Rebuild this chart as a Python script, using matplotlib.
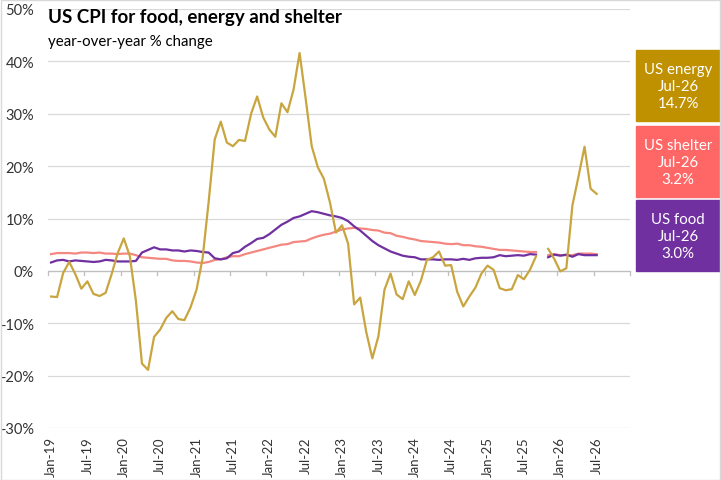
import numpy as np
import pandas as pd
import matplotlib
matplotlib.use("Agg")
import matplotlib.pyplot as plt
from matplotlib.patches import Rectangle

plt.rcParams['font.family'] = ['Lato', 'DejaVu Sans']

nan = np.nan

# monthly yoy % change, Jan-19 .. Jul-26 (Oct-25 not published)
energy = [
    -4.9, -5.0, -0.4, 1.7, -0.6, -3.4, -2.0, -4.4, -4.8, -4.2, -0.6, 3.4,
    6.2, 2.8, -5.7, -17.7, -18.9, -12.6, -11.2, -9.0, -7.7, -9.2, -9.4, -7.0,
    -3.6, 2.4, 13.2, 25.1, 28.5, 24.5, 23.8, 25.0, 24.8, 30.0, 33.3, 29.3,
    27.0, 25.6, 32.0, 30.3, 34.6, 41.6, 32.9, 23.8, 19.8, 17.6, 13.1, 7.3,
    8.7, 5.2, -6.4, -5.1, -11.7, -16.7, -12.5, -3.6, -0.5, -4.5, -5.4, -2.0,
    -4.6, -1.9, 2.1, 2.6, 3.7, 1.0, 1.1, -4.0, -6.8, -4.9, -3.2, -0.5,
    1.0, 0.2, -3.3, -3.7, -3.5, -0.8, -1.6, 0.2, 2.8, nan, 4.2, 2.3,
    -0.1, 0.5, 12.5, 18.0, 23.7, 15.7, 14.7,
]
food = [
    1.6, 2.0, 2.1, 1.8, 2.0, 1.9, 1.8, 1.7, 1.8, 2.1, 2.0, 1.8,
    1.8, 1.8, 1.9, 3.5, 4.0, 4.5, 4.1, 4.1, 3.9, 3.9, 3.7, 3.9,
    3.8, 3.6, 3.5, 2.4, 2.2, 2.4, 3.4, 3.7, 4.6, 5.3, 6.1, 6.3,
    7.0, 7.9, 8.8, 9.4, 10.1, 10.4, 10.9, 11.4, 11.2, 10.9, 10.6, 10.4,
    10.1, 9.5, 8.5, 7.7, 6.7, 5.7, 4.9, 4.3, 3.7, 3.3, 2.9, 2.7,
    2.6, 2.2, 2.2, 2.2, 2.1, 2.2, 2.2, 2.1, 2.3, 2.1, 2.4, 2.5,
    2.5, 2.6, 3.0, 2.8, 2.9, 3.0, 2.9, 3.2, 3.1, nan, 2.6, 3.1,
    2.9, 3.1, 2.7, 3.2, 3.0, 3.0, 3.0,
]
shelter = [
    3.2, 3.4, 3.4, 3.4, 3.3, 3.5, 3.5, 3.4, 3.5, 3.3, 3.3, 3.2,
    3.3, 3.3, 3.0, 2.6, 2.5, 2.4, 2.3, 2.3, 2.0, 1.9, 1.9, 1.8,
    1.6, 1.5, 1.7, 2.1, 2.2, 2.6, 2.8, 2.8, 3.2, 3.5, 3.8, 4.1,
    4.4, 4.7, 5.0, 5.1, 5.5, 5.6, 5.7, 6.2, 6.6, 6.9, 7.1, 7.5,
    7.9, 8.1, 8.2, 8.1, 8.0, 7.8, 7.7, 7.3, 7.2, 6.7, 6.5, 6.2,
    6.0, 5.7, 5.6, 5.5, 5.4, 5.2, 5.1, 5.2, 4.9, 4.9, 4.7, 4.6,
    4.4, 4.2, 4.0, 4.0, 3.9, 3.8, 3.7, 3.6, 3.6, nan, 3.0, 3.2,
    3.0, 3.0, 3.0, 3.3, 3.3, 3.3, 3.2,
]

# category axis runs Jan-19 .. Dec-26
months = pd.date_range('2019-01-01', periods=96, freq='MS')
labels = months.strftime('%b-%y')

series = [
    ('US shelter', shelter, '#F4877F', '#FF6666'),
    ('US food', food, '#7030A0', '#7030A0'),
    ('US energy', energy, '#C9A53F', '#BF9000'),
]

fig = plt.figure(figsize=(7.21, 4.81), dpi=100)
ax = fig.add_axes([48 / 721, 1 - 429 / 481, 582 / 721, 419 / 481])

x = np.arange(len(energy))
for name, vals, col, _ in series:
    ax.plot(x, vals, color=col, lw=1.6, solid_joinstyle='round')

ax.set_xlim(-0.5, len(months) - 0.5)
ax.set_ylim(-30, 50)
yt = np.arange(-30, 51, 10)
ax.set_yticks(yt)
ax.set_yticklabels([f'{v}%' for v in yt], fontsize=10.5, color='#333333')
ax.tick_params(axis='y', length=0, pad=10)
ax.grid(axis='y', color='#D9D9D9', lw=0.9)
ax.set_axisbelow(True)

for s in ax.spines.values():
    s.set_visible(False)
ax.axhline(0, color='#BFBFBF', lw=0.9, zorder=1)
# tick marks sit on the zero line, between categories
for b in np.arange(-0.5, len(months), 6):
    ax.plot([b, b], [0, -0.8], color='#BFBFBF', lw=0.9, clip_on=False, zorder=1)

ax.set_xticks(np.arange(0, len(months), 6))
ax.set_xticklabels(labels[::6], rotation=90, fontsize=9.5, color='#333333')
ax.tick_params(axis='x', length=0, pad=6)

fig.text(48 / 721, 1 - 18 / 481, 'US CPI for food, energy and shelter',
         fontsize=13.5, fontweight='bold', va='center', ha='left')
fig.text(48 / 721, 1 - 42 / 481, 'year-over-year % change',
         fontsize=10.8, va='center', ha='left')

# end-value boxes on the right
box_tops = {'US energy': 51, 'US shelter': 127, 'US food': 201}
for name, vals, _, boxcol in series:
    top = box_tops[name]
    fig.patches.append(Rectangle((636 / 721, 1 - (top + 71) / 481), 85 / 721, 71 / 481,
                                 transform=fig.transFigure, color=boxcol, zorder=0))
    txt = f'{name}\n{labels[len(vals) - 1]}\n{vals[-1]:.1f}%'
    fig.text(678 / 721, 1 - (top + 36) / 481, txt, color='white', fontsize=10.8,
             ha='center', va='center', linespacing=1.3)

fig.patches.append(Rectangle((0.5 / 721, 0.5 / 481), 719.5 / 721, 479.5 / 481,
                             transform=fig.transFigure, fill=False,
                             edgecolor='#D9D9D9', lw=1))

fig.savefig('out.png', dpi=100)
